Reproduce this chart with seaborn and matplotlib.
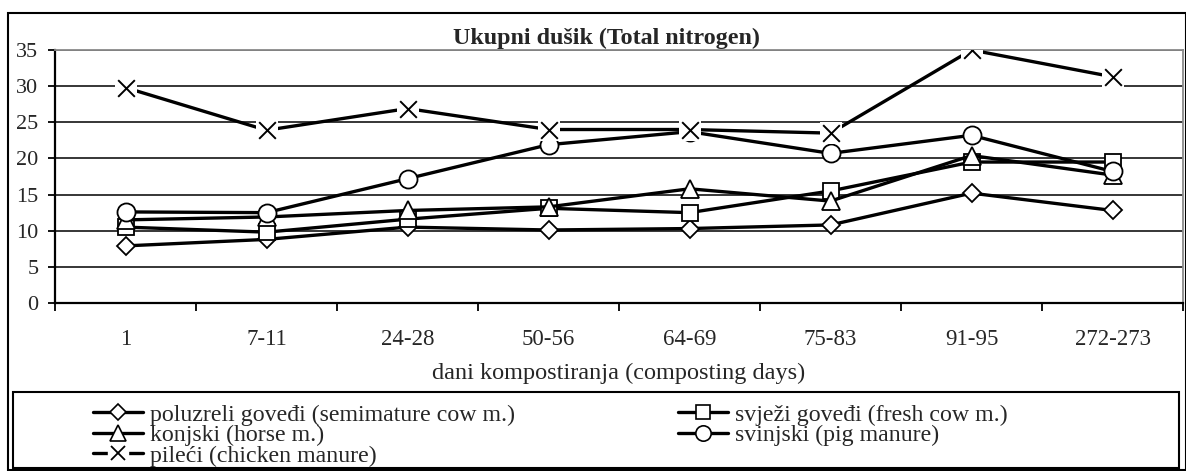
import numpy as np
import pandas as pd
import matplotlib.pyplot as plt
import seaborn as sns
from matplotlib.lines import Line2D
from matplotlib.patches import Rectangle

# --------------------------
# Data
# --------------------------
days = ["1", "7-11", "24-28", "50-56", "64-69", "75-83", "91-95", "272-273"]

poluzreli = [7.9, 8.8, 10.5, 10.1, 10.3, 10.8, 15.2, 12.8]
svjezi = [10.5, 9.8, 11.6, 13.1, 12.5, 15.5, 19.5, 19.5]
konjski = [11.5, 11.9, 12.8, 13.3, 15.8, 14.1, 20.4, 17.7]
svinjski = [12.6, 12.5, 17.2, 21.9, 23.7, 20.7, 23.2, 18.2]
pileci = [29.8, 23.9, 26.9, 24.0, 24.0, 23.5, 35.0, 31.3]

labels = [
    "poluzreli goveđi (semimature cow m.)",
    "svježi goveđi (fresh cow m.)",
    "konjski (horse m.)",
    "svinjski (pig manure)",
    "pileći (chicken manure)",
]
series = [poluzreli, svjezi, konjski, svinjski, pileci]

yticks = [0, 5, 10, 15, 20, 25, 30, 35]

title = "Ukupni dušik (Total nitrogen)"
xlabel = "dani kompostiranja (composting days)"

# long-form table, x position is the category index
df = pd.DataFrame(
    {
        "series": np.repeat(labels, len(days)),
        "day": days * len(labels),
        "pos": list(range(len(days))) * len(labels),
        "value": np.concatenate(series),
    }
)

# --------------------------
# Style
# --------------------------
sns.set_style("white")
plt.rcParams["font.family"] = ["Liberation Serif", "DejaVu Serif"]
FS = 16
FS_LAB = 17.5
FS_LEG = 17.2

W, H = 1186, 471
fig = plt.figure(figsize=(W / 100, H / 100), dpi=100)


def fx(px):
    return px / W


def fy(py):
    return 1 - py / H


ax = fig.add_axes([fx(55), fy(303), fx(1183) - fx(55), fy(50) - fy(303)])

# marker styles: (marker, markersize)
mstyle = {
    labels[0]: ("D", 9.5),
    labels[1]: ("s", 12),
    labels[2]: ("^", 13),
    labels[3]: ("o", 13),
}
LW = 2.4

for lab in labels[:4]:
    m, ms = mstyle[lab]
    sns.lineplot(
        data=df[df["series"] == lab],
        x="pos",
        y="value",
        ax=ax,
        color="black",
        linewidth=LW,
        marker=m,
        markersize=ms,
        markerfacecolor="white",
        markeredgecolor="black",
        markeredgewidth=1.3,
        sort=False,
        legend=False,
        zorder=3,
    )

# chicken: line, white background squares, then x markers
chick = df[df["series"] == labels[4]]
sns.lineplot(data=chick, x="pos", y="value", ax=ax, color="black",
             linewidth=LW, sort=False, legend=False, zorder=3)
sns.scatterplot(data=chick, x="pos", y="value", ax=ax, marker="s", s=16.5 ** 2,
                color="white", linewidth=0, legend=False, zorder=4)
sns.scatterplot(data=chick, x="pos", y="value", ax=ax, marker="x", s=12 ** 2,
                color="black", linewidth=1.4, legend=False, zorder=5)

# --------------------------
# Axes
# --------------------------
ax.set_xlim(-0.5, len(days) - 0.5)
ax.set_ylim(0, 35)
ax.set_yticks(yticks)
ax.set_xticks(range(len(days)))
ax.set_xticklabels(days)
ax.set_xticks(np.arange(-0.5, len(days), 1.0), minor=True)
ax.tick_params(axis="x", which="major", length=0, pad=19, labelsize=16.5)
ax.tick_params(axis="x", which="minor", length=6, width=1.3, color="black",
               direction="out", bottom=True)
ax.tick_params(axis="y", length=5, width=1.3, color="black", direction="out",
               left=True, pad=7, labelsize=FS)

ax.yaxis.grid(True, color="black", linewidth=1.1)
ax.set_axisbelow(True)
for s in ["left", "bottom"]:
    ax.spines[s].set_color("black")
    ax.spines[s].set_linewidth(1.6)
for s in ["top", "right"]:
    ax.spines[s].set_color("#8a8a8a")
    ax.spines[s].set_linewidth(1.3)

ax.set_xlabel(xlabel, fontsize=FS_LAB)
ax.xaxis.set_label_coords(0.5, (303 - 373) / 253, transform=ax.transAxes)
ax.xaxis.label.set_va("center")
ax.set_ylabel("")
ax.set_title(title, fontsize=17.3, fontweight="bold", x=(606 - 55) / 1128, pad=4)

# --------------------------
# Legend (Excel-like order: row-wise in two columns)
# --------------------------
def handle(lab):
    m, ms = mstyle[lab]
    return Line2D([], [], color="black", lw=LW, marker=m, markersize=ms * 0.85,
                  markerfacecolor="white", markeredgecolor="black", markeredgewidth=1.2)


h_chick = (
    Line2D([], [], color="black", lw=LW),
    Line2D([], [], ls="", marker="s", markersize=14, color="white"),
    Line2D([], [], ls="", marker="x", markersize=10, color="black", markeredgewidth=1.3),
)
handles = [handle(labels[0]), handle(labels[2]), h_chick,
           handle(labels[1]), handle(labels[3])]
leg_labels = [labels[0], labels[2], labels[4], labels[1], labels[3]]

leg = fig.legend(
    handles, leg_labels,
    loc="upper left",
    bbox_to_anchor=(fx(93), fy(404)),
    ncol=2,
    frameon=False,
    fontsize=FS_LEG,
    handlelength=2.1,
    handletextpad=0.3,
    labelspacing=-0.05,
    columnspacing=6.8,
    borderpad=0,
    borderaxespad=0,
    numpoints=1,
)

# chart and legend frames
fig.add_artist(Rectangle((fx(8), fy(470)), fx(1185.5) - fx(8), fy(13) - fy(470),
                         transform=fig.transFigure, fill=False, ec="black", lw=1.5))
fig.add_artist(Rectangle((fx(13), fy(468)), fx(1179) - fx(13), fy(392) - fy(468),
                         transform=fig.transFigure, fill=False, ec="black", lw=1.5))

plt.savefig("out.png", dpi=100)
